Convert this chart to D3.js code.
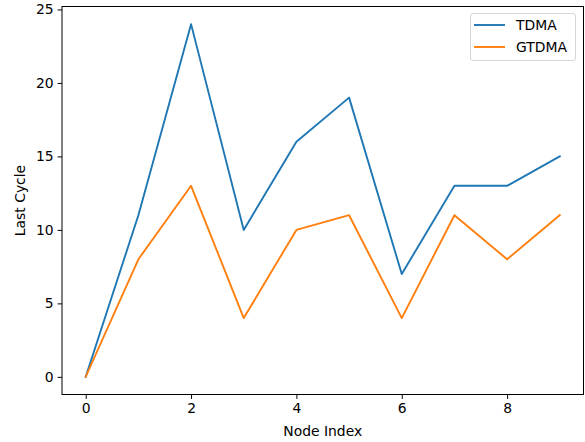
<!DOCTYPE html>
<html>
<head>
<meta charset="utf-8">
<script src="https://cdn.jsdelivr.net/npm/d3@7/dist/d3.min.js"></script>
<style>
  html, body { margin: 0; padding: 0; background: #fff; }
  svg { display: block; }
  text { font-family: "DejaVu Sans", sans-serif; fill: #000; }
</style>
</head>
<body>
<svg id="chart" width="585" height="442"></svg>
<script>
// Node indices and last-cycle values per scheduling scheme
const nodeIndex = [0, 1, 2, 3, 4, 5, 6, 7, 8, 9];
const tdma  = [0, 11, 24, 10, 16, 19, 7, 13, 13, 15];
const gtdma = [0, 8, 13, 4, 10, 11, 4, 11, 8, 11];
const seriesNames = ["TDMA", "GTDMA"];
const seriesColors = ["#1f77b4", "#ff7f0e"];
const xTicks = [0, 2, 4, 6, 8];
const yTicks = [0, 5, 10, 15, 20, 25];

const plot = { left: 62, right: 583.5, top: 6.5, bottom: 394.5 };
const fontPx = 13.9;

const svg = d3.select("#chart");

const x = d3.scaleLinear().domain([-0.45, 9.45]).range([plot.left, plot.right]);
const y = d3.scaleLinear().domain([-1.2, 25.2]).range([plot.bottom, plot.top]);

// Frame
svg.append("rect")
  .attr("x", plot.left).attr("y", plot.top)
  .attr("width", plot.right - plot.left).attr("height", plot.bottom - plot.top)
  .attr("fill", "none").attr("stroke", "#000").attr("stroke-width", 1);

// Axes
const xAxis = d3.axisBottom(x).tickValues(xTicks).tickSize(4.4).tickPadding(4).tickFormat(d3.format("d"));
const yAxis = d3.axisLeft(y).tickValues(yTicks).tickSize(4.4).tickPadding(4).tickFormat(d3.format("d"));

const gx = svg.append("g").attr("transform", `translate(0,${plot.bottom})`).call(xAxis);
const gy = svg.append("g").attr("transform", `translate(${plot.left},0)`).call(yAxis);
[gx, gy].forEach(g => {
  g.select(".domain").remove();
  g.selectAll(".tick line").attr("stroke", "#000").attr("stroke-width", 1);
  g.selectAll(".tick text")
    .style("font-family", "'DejaVu Sans', sans-serif")
    .style("font-size", fontPx + "px").attr("fill", "#000");
});

// Axis titles
svg.append("text")
  .attr("x", (plot.left + plot.right) / 2).attr("y", 436)
  .attr("text-anchor", "middle").style("font-size", fontPx + "px")
  .text("Node Index");
svg.append("text")
  .attr("transform", `translate(24.5,${(plot.top + plot.bottom) / 2}) rotate(-90)`)
  .attr("text-anchor", "middle").style("font-size", fontPx + "px")
  .text("Last Cycle");

// Lines
const line = d3.line().x((d, i) => x(nodeIndex[i])).y(d => y(d));
[tdma, gtdma].forEach((vals, k) => {
  svg.append("path")
    .datum(vals)
    .attr("d", line)
    .attr("fill", "none")
    .attr("stroke", seriesColors[k])
    .attr("stroke-width", 1.9)
    .attr("stroke-linecap", "square")
    .attr("stroke-linejoin", "round");
});

// Legend
const lg = svg.append("g");
lg.append("rect")
  .attr("x", 470.5).attr("y", 13.5).attr("width", 105).attr("height", 47)
  .attr("rx", 2.5).attr("fill", "#fff").attr("fill-opacity", 0.8)
  .attr("stroke", "#d6d6d6").attr("stroke-width", 1);
seriesNames.forEach((name, k) => {
  const cy = 25 + k * 22;
  lg.append("line")
    .attr("x1", 474).attr("x2", 505).attr("y1", cy).attr("y2", cy)
    .attr("stroke", seriesColors[k]).attr("stroke-width", 1.9);
  lg.append("text")
    .attr("x", 516).attr("y", cy).attr("dy", "0.36em")
    .style("font-size", fontPx + "px").text(name);
});
</script>
</body>
</html>
